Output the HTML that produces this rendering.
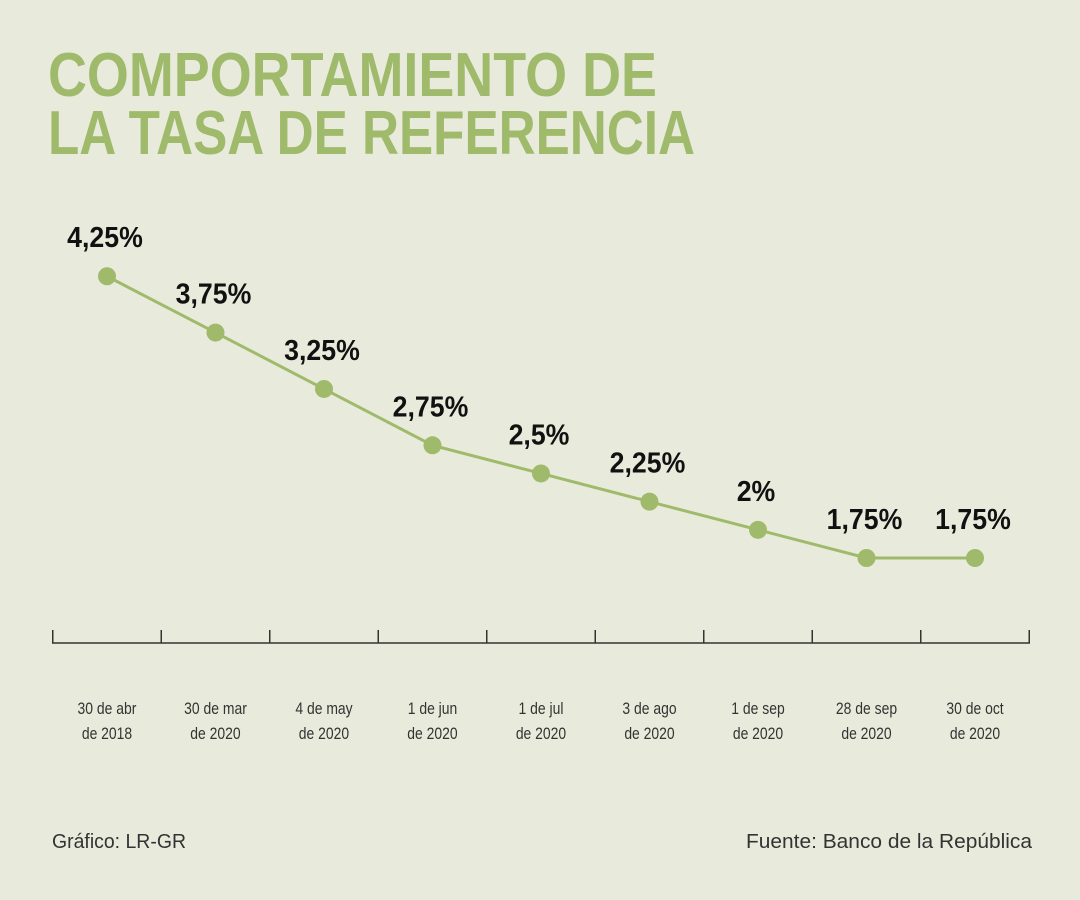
<!DOCTYPE html>
<html><head><meta charset="utf-8"><style>
body{margin:0;background:#e8ebdb;}
svg{display:block;font-family:"Liberation Sans",sans-serif;}
</style></head><body>
<svg id="chart" width="1080" height="900" viewBox="0 0 1080 900">
<rect width="1080" height="900" fill="#e8ebdb"/>
<text x="48" y="96" font-size="62" font-weight="bold" fill="#a0ba6c" textLength="609" lengthAdjust="spacingAndGlyphs">COMPORTAMIENTO DE</text>
<text x="48" y="154" font-size="62" font-weight="bold" fill="#a0ba6c" textLength="647" lengthAdjust="spacingAndGlyphs">LA TASA DE REFERENCIA</text>
<g id="axis"></g>
<g id="marks"></g>
<text x="52" y="848" font-size="20" fill="#333" textLength="134" lengthAdjust="spacingAndGlyphs">Gráfico: LR-GR</text>
<text x="1032" y="848" font-size="20" fill="#333" text-anchor="end" textLength="286" lengthAdjust="spacingAndGlyphs">Fuente: Banco de la República</text>
</svg>
<script>
const dates1 = ["30 de abr","30 de mar","4 de may","1 de jun","1 de jul","3 de ago","1 de sep","28 de sep","30 de oct"];
const dates2 = ["de 2018","de 2020","de 2020","de 2020","de 2020","de 2020","de 2020","de 2020","de 2020"];
const rates = [4.25,3.75,3.25,2.75,2.5,2.25,2,1.75,1.75];
const rateLabels = ["4,25%","3,75%","3,25%","2,75%","2,5%","2,25%","2%","1,75%","1,75%"];
const NS="http://www.w3.org/2000/svg";
const xs = i => 107 + i*108.5;
const ys = v => 558 - (v-1.75)*112.7;
const axis=document.getElementById('axis'), marks=document.getElementById('marks');
function mk(tag,attrs,parent){const e=document.createElementNS(NS,tag);for(const k in attrs)e.setAttribute(k,attrs[k]);parent.appendChild(e);return e;}
const base=mk('line',{x1:52,x2:1030,y1:643,y2:643,stroke:'#333','stroke-width':1.5},axis);


for(let i=0;i<=dates1.length;i++){
  const tx=xs(i)-54.25;
  const t=mk('line',{x1:tx,x2:tx,y1:630,y2:643,stroke:'#333','stroke-width':1.5},axis);
  
  
}
dates1.forEach((d,i)=>{
  const t=mk('text',{x:xs(i),y:714,'font-size':17,fill:'#333','text-anchor':'middle',transform:`translate(${xs(i)*0.18},0) scale(0.82,1)`},axis);
  t.textContent=d;
  
  
  const t2=mk('text',{x:xs(i),y:739,'font-size':17,fill:'#333','text-anchor':'middle',transform:`translate(${xs(i)*0.18},0) scale(0.82,1)`},axis);
  t2.textContent=dates2[i];
  
  
});
const pts=rates.map((v,i)=>xs(i)+','+ys(v)).join(' ');
const pl=mk('polyline',{points:pts,fill:'none',stroke:'#a0ba6c','stroke-width':3},marks);


rates.forEach((v,i)=>{
  const c=mk('circle',{cx:xs(i),cy:ys(v),r:9,fill:'#a0ba6c'},marks);
  
  
  const t=mk('text',{x:(xs(i)-2)/0.92,y:ys(v)-29,'font-size':29,'font-weight':'bold',fill:'#111','text-anchor':'middle',transform:'scale(0.92,1)'},marks);
  t.textContent=rateLabels[i];
  
  
});
</script>
</body></html>
